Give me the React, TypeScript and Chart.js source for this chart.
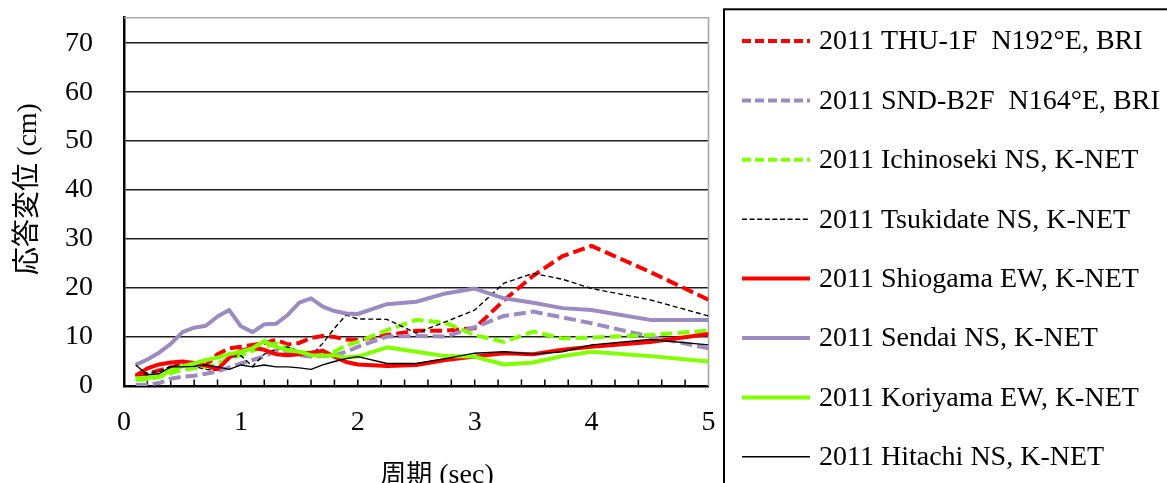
import React, { useEffect, useRef } from "react";
import { Chart, registerables } from "chart.js";

Chart.register(...registerables);

// ---- data ----
const periods = [
  0.1, 0.2, 0.3, 0.4, 0.5, 0.6, 0.7, 0.8, 0.9, 1.0,
  1.1, 1.2, 1.3, 1.4, 1.5, 1.6, 1.7, 1.8, 1.9, 2.0,
  2.25, 2.5, 2.75, 3.0, 3.25, 3.5, 3.75, 4.0, 4.5, 5.0,
];

const thu1f = [
  1.9, 2.5, 3.2, 3.8, 4.4, 4.0, 4.2, 6.5, 7.7, 8.0,
  8.4, 8.8, 9.4, 8.5, 8.8, 9.8, 10.2, 10.0, 9.5, 9.4,
  10.4, 11.3, 11.3, 11.8, 17.5, 22.5, 26.5, 28.6, 23.3, 17.6,
];
const sndB2f = [
  0.2, 0.3, 0.6, 1.5, 1.9, 2.1, 2.5, 3.0, 3.8, 4.6,
  5.3, 6.0, 7.2, 6.8, 6.3, 6.0, 6.1, 6.2, 7.0, 8.0,
  10.1, 10.2, 10.1, 12.0, 14.3, 15.2, 14.0, 12.8, 10.1, 7.7,
];
const ichinoseki = [
  1.2, 1.4, 1.8, 2.6, 3.3, 3.6, 3.9, 4.6, 5.6, 6.3,
  7.2, 8.0, 8.7, 7.8, 7.0, 6.7, 6.8, 7.0, 8.3, 9.0,
  11.4, 13.5, 12.9, 10.4, 9.0, 11.1, 9.7, 9.9, 10.4, 11.3,
];
const tsukidate = [
  2.0, 2.6, 3.0, 4.0, 4.3, 4.0, 3.4, 3.2, 5.8, 6.2,
  4.0, 6.5, 7.5, 8.0, 7.0, 6.2, 8.7, 11.8, 14.5, 13.7,
  13.6, 10.8, 13.1, 15.5, 21.0, 23.0, 21.8, 19.9, 17.6, 14.3,
];
const shiogama = [
  2.1, 3.6, 4.4, 4.8, 5.0, 4.7, 4.2, 3.4, 5.8, 7.2,
  7.8, 7.4, 6.5, 6.3, 6.5, 6.8, 7.2, 6.0, 4.9, 4.4,
  4.1, 4.3, 5.3, 6.0, 6.7, 6.5, 7.4, 8.0, 9.0, 10.6,
];
const sendai = [
  4.3, 5.4, 6.8, 8.6, 11.0, 11.9, 12.3, 14.2, 15.5, 12.2,
  11.0, 12.6, 12.7, 14.5, 17.0, 17.9, 16.2, 15.3, 14.8, 14.7,
  16.7, 17.2, 18.9, 19.9, 17.9, 17.0, 15.9, 15.5, 13.5, 13.5,
];
const koriyama = [
  1.6, 1.7, 1.9, 3.2, 4.0, 4.6, 5.3, 5.8, 6.5, 7.0,
  7.7, 9.2, 8.0, 7.3, 7.0, 6.3, 6.2, 6.3, 5.8, 6.0,
  7.9, 7.0, 6.1, 6.0, 4.4, 4.8, 6.1, 7.0, 6.1, 5.0,
];
const hitachi = [
  4.3, 2.3, 2.5, 3.9, 3.9, 4.0, 4.3, 3.9, 3.4, 4.3,
  3.9, 4.3, 3.9, 3.9, 3.7, 3.4, 4.3, 5.0, 5.6, 6.0,
  4.6, 4.6, 5.6, 6.7, 7.0, 6.5, 7.0, 8.4, 9.5, 8.4,
];

const seriesLabels = [
  "2011 THU-1F  N192°E, BRI",
  "2011 SND-B2F  N164°E, BRI",
  "2011 Ichinoseki NS, K-NET",
  "2011 Tsukidate NS, K-NET",
  "2011 Shiogama EW, K-NET",
  "2011 Sendai NS, K-NET",
  "2011 Koriyama EW, K-NET",
  "2011 Hitachi NS, K-NET",
];
const seriesValues = [thu1f, sndB2f, ichinoseki, tsukidate, shiogama, sendai, koriyama, hitachi];

const xTickValues = [0, 1, 2, 3, 4, 5];
const yTickValues = [0, 10, 20, 30, 40, 50, 60, 70];
const xTitleCjk = "周期";
const xTitleLatin = " (sec)";
const yTitle = "応答変位 (cm)";

// ---- styles ----
const RED = "#ff0000";
const PURPLE = "#9d8ac0";
const GREEN = "#80ff00";
const BLACK = "#000000";
const seriesColors = [RED, PURPLE, GREEN, BLACK, RED, PURPLE, GREEN, BLACK];
const seriesWidths = [4, 4, 4, 1.4, 4, 4, 4, 1.4];
const seriesDash: number[][] = [[12, 5], [12, 5], [12, 5], [5, 3], [], [], [], []];
const legendDash: number[][] = [[9, 4], [9, 4], [9, 4], [5, 2.6], [], [], [], []];

const SERIF = '"Liberation Serif", "Times New Roman", "Noto Sans CJK JP", serif';

const W = 1167;
const H = 483;
const PLOT_LEFT = 124;
const PLOT_RIGHT = 708.5;
const PLOT_TOP = 17.7;
const PLOT_BOTTOM = 386;

const decorPlugin = {
  id: "decor",
  beforeDatasetsDraw(chart: any) {
    const { ctx, chartArea: ca, scales } = chart;
    const x = scales.x;
    ctx.save();
    // grey frame top & right
    ctx.strokeStyle = "#a8a8a8";
    ctx.lineWidth = 1.6;
    ctx.beginPath();
    ctx.moveTo(ca.left, ca.top);
    ctx.lineTo(ca.right, ca.top);
    ctx.lineTo(ca.right, ca.bottom);
    ctx.stroke();
    // inward minor ticks on x axis
    ctx.strokeStyle = "#000";
    ctx.lineWidth = 1.5;
    ctx.beginPath();
    for (let k = 1; k < 25; k++) {
      const px = x.getPixelForValue(k * 0.2);
      ctx.moveTo(px, ca.bottom);
      ctx.lineTo(px, ca.bottom - 6.5);
    }
    ctx.stroke();
    ctx.restore();
  },
  afterDraw(chart: any) {
    const { ctx } = chart;
    ctx.save();
    // legend frame
    ctx.strokeStyle = "#000";
    ctx.lineWidth = 2;
    ctx.strokeRect(724, 9.3, 600, 600);
    // legend items
    ctx.font = `28px ${SERIF}`;
    ctx.textAlign = "left";
    ctx.textBaseline = "middle";
    chart.data.datasets.forEach((ds: any, i: number) => {
      const y = 41 + 59.4 * i;
      ctx.strokeStyle = ds.borderColor;
      ctx.lineWidth = ds.borderWidth;
      ctx.setLineDash(legendDash[i]);
      ctx.beginPath();
      ctx.moveTo(742, y);
      ctx.lineTo(810, y);
      ctx.stroke();
      ctx.setLineDash([]);
      ctx.fillStyle = "#000";
      ctx.fillText(ds.label, 819, y + 1);
    });
    // x axis title (CJK part slightly smaller, like the reference)
    ctx.fillStyle = "#000";
    ctx.textBaseline = "alphabetic";
    ctx.textAlign = "left";
    ctx.font = `26px ${SERIF}`;
    const wCjk = ctx.measureText(xTitleCjk).width;
    ctx.font = `28px ${SERIF}`;
    const wLat = ctx.measureText(xTitleLatin).width;
    const startX = 437 - (wCjk + wLat) / 2;
    const baseY = 483;
    ctx.font = `26px ${SERIF}`;
    ctx.fillText(xTitleCjk, startX, baseY);
    ctx.font = `28px ${SERIF}`;
    ctx.fillText(xTitleLatin, startX + wCjk, baseY);
    // y axis title
    ctx.textAlign = "center";
    ctx.textBaseline = "middle";
    ctx.translate(29, 189);
    ctx.rotate(-Math.PI / 2);
    ctx.font = `28px ${SERIF}`;
    ctx.fillText(yTitle, 0, 0);
    ctx.restore();
  },
};

export default function App() {
  const canvasRef = useRef<HTMLCanvasElement | null>(null);

  useEffect(() => {
    const canvas = canvasRef.current;
    if (!canvas) return;
    const datasets = seriesLabels.map((label, i) => ({
      label,
      data: periods.map((p, j) => ({ x: p, y: seriesValues[i][j] })),
      borderColor: seriesColors[i],
      backgroundColor: seriesColors[i],
      borderWidth: seriesWidths[i],
      borderDash: seriesDash[i],
      borderCapStyle: "butt",
      borderJoinStyle: "round",
      pointRadius: 0,
      tension: 0,
      fill: false,
      order: seriesLabels.length - i,
    }));

    const chart = new Chart(canvas, {
      type: "line",
      data: { datasets } as any,
      options: {
        animation: false,
        responsive: false,
        maintainAspectRatio: false,
        devicePixelRatio: 1,
        layout: { padding: { left: 0, top: PLOT_TOP, right: W - PLOT_RIGHT, bottom: 0 } },
        plugins: { legend: { display: false }, tooltip: { enabled: false }, title: { display: false } },
        scales: {
          x: {
            type: "linear",
            min: 0,
            max: 5,
            afterFit: (s: any) => {
              s.height = H - PLOT_BOTTOM;
            },
            afterBuildTicks: (s: any) => {
              s.ticks = xTickValues.map((v) => ({ value: v }));
            },
            grid: { display: false, drawTicks: false },
            border: { display: true, color: "#000", width: 2.5 },
            ticks: {
              padding: 20,
              color: "#000",
              font: { family: SERIF, size: 28 },
              maxRotation: 0,
              autoSkip: false,
              callback: (v: any) => String(v),
            },
          },
          y: {
            type: "linear",
            min: 0,
            max: 75.2,
            afterFit: (s: any) => {
              s.width = PLOT_LEFT;
              s.paddingTop = 0;
              s.paddingBottom = 0;
            },
            afterBuildTicks: (s: any) => {
              s.ticks = yTickValues.map((v) => ({ value: v }));
            },
            grid: {
              drawTicks: false,
              color: (c: any) => (c.tick && c.tick.value === 0 ? "rgba(0,0,0,0)" : "#1e1e1e"),
              lineWidth: 1.6,
            },
            border: { display: true, color: "#000", width: 2.5 },
            ticks: {
              padding: 31,
              color: "#000",
              font: { family: SERIF, size: 28 },
              callback: (v: any) => String(v),
            },
          },
        },
      },
      plugins: [decorPlugin],
    } as any);

    return () => chart.destroy();
  }, []);

  return (
    <div style={{ position: "fixed", left: 0, top: 0, width: W, height: H, background: "#fff" }}>
      <canvas ref={canvasRef} width={W} height={H} style={{ width: W, height: H, display: "block" }} />
    </div>
  );
}
